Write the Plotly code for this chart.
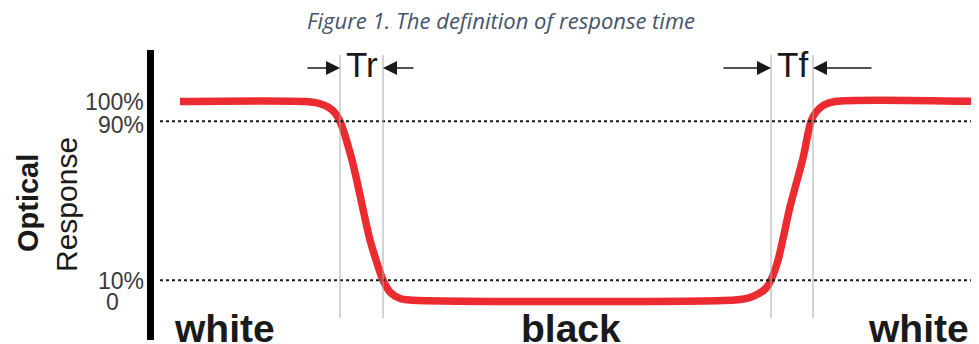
import plotly.graph_objects as go

# optical response curve (time in arbitrary units, response in %)
TIME = [180, 305, 318, 328, 335, 340, 352, 370, 378, 383, 390, 400, 410,
        735, 748, 758, 766, 771, 778, 790, 803, 811, 816, 824, 835, 979]
RESPONSE = [100, 100, 99.2, 97.2, 94.2, 90, 70.5, 30.2, 17.1, 10, 4, 0.8, 0,
            0, 1, 3, 6, 10, 20, 46.9, 71.5, 90, 94.7, 98.2, 100, 100]

LEVELS = [90, 10]
TICK_VALS = [100, 90, 10, 0]
TICK_TEXT = ["100%", "90%", "10%", "0"]

# crossing times for Tr / Tf markers
TR_TIMES = [340, 383]
TF_TIMES = [771, 813]

STATES = ["white", "black", "white"]
STATE_X = [224, 571, 918]

THEME = {
    "red": "#ec2b30",
    "ink": "#1a1a1a",
    "tick": "#3a3a3a",
    "guide": "#a8a8a8",
    "title": "#44546a",
}

OFF = 8  # the page body adds an 8px margin; shift the view to compensate
PX_PER_PCT = 1.985


def py(pix):
    """Screen pixel row (from top) -> response value on the y axis."""
    return (300 - pix) / PX_PER_PCT


Y_RANGE = [py(344 + OFF), py(OFF)]
X_RANGE = [OFF, 979 + OFF]

fig = go.Figure()

fig.add_trace(go.Scatter(
    x=TIME, y=RESPONSE, mode="lines",
    line=dict(color=THEME["red"], width=7.5, shape="spline", smoothing=0.8),
    hoverinfo="skip", showlegend=False,
))

# 90% / 10% dotted levels
for lv in LEVELS:
    fig.add_shape(type="line", x0=160, x1=990, y0=lv, y1=lv, xref="x", yref="y",
                  line=dict(color=THEME["ink"], width=2, dash="3px,3px"))

# thin guides at the crossing times
for t in TR_TIMES + TF_TIMES:
    fig.add_shape(type="line", x0=t, x1=t, y0=py(318), y1=py(55), xref="x", yref="y",
                  line=dict(color=THEME["guide"], width=1))

# thick vertical axis bar
fig.add_shape(type="line", x0=150.5, x1=150.5, y0=py(340), y1=py(50), xref="x", yref="y",
              line=dict(color="#000000", width=7))

annotations = []
for v, txt in zip(TICK_VALS, TICK_TEXT):
    shift = {100: 0, 90: -4, 10: -1, 0: -2}[v]
    annotations.append(dict(
        x=146 if txt != "0" else 121, y=v, xref="x", yref="y", text=txt,
        showarrow=False, xanchor="right", yanchor="middle", yshift=shift,
        font=dict(family="Liberation Sans, Arial", size=23, color=THEME["tick"]),
    ))

annotations += [
    dict(x=28, y=py(203), xref="x", yref="y", text="<b>Optical</b>", textangle=-90,
         showarrow=False, font=dict(family="Liberation Sans, Arial", size=29, color=THEME["ink"])),
    dict(x=66, y=py(205), xref="x", yref="y", text="Response", textangle=-90,
         showarrow=False, font=dict(family="Liberation Sans, Arial", size=30, color=THEME["ink"])),
]

for sx, st in zip(STATE_X, STATES):
    annotations.append(dict(
        x=sx, y=py(328), xref="x", yref="y", text=f"<b>{st}</b>", showarrow=False,
        font=dict(family="Liberation Sans, Arial", size=39, color=THEME["ink"]),
        xanchor="center", yanchor="middle",
    ))

# Tr / Tf labels and arrows
for (t0, t1), lab, tails in [(TR_TIMES, "Tr", (306, 415)), (TF_TIMES, "Tf", (722, 873))]:
    annotations.append(dict(
        x=(t0 + t1) / 2, y=py(64), xref="x", yref="y", text=lab, showarrow=False,
        font=dict(family="Liberation Sans, Arial", size=35, color=THEME["ink"]),
    ))
    for tip, tail in [(t0, tails[0]), (t1, tails[1])]:
        annotations.append(dict(
            x=tip, y=py(68), ax=tail, ay=py(68), xref="x", yref="y", axref="x", ayref="y",
            text="", showarrow=True, arrowhead=2, arrowsize=2, arrowwidth=1.4,
            arrowcolor=THEME["ink"],
        ))

annotations.append(dict(
    x=(501 - OFF) / 979, y=1 - (20 - OFF) / 344, xref="paper", yref="paper",
    xanchor="center", yanchor="middle",
    text="<i>Figure 1. The definition of response time</i>", showarrow=False,
    font=dict(family="Open Sans", size=22, color=THEME["title"]),
))

fig.update_layout(
    width=979, height=344,
    margin=dict(l=0, r=0, t=0, b=0),
    paper_bgcolor="#ffffff", plot_bgcolor="#ffffff",
    xaxis=dict(range=X_RANGE, visible=False, fixedrange=True),
    yaxis=dict(range=Y_RANGE, visible=False, fixedrange=True),
    annotations=annotations,
    showlegend=False,
)

fig.write_html("out.html")
